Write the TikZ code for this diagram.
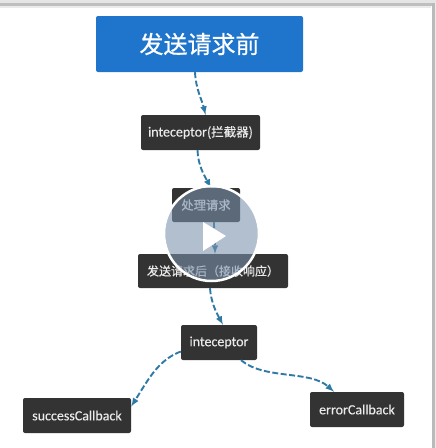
\documentclass[tikz,border=0pt]{standalone}
\usepackage{fontspec}
\setmainfont[FakeBold=0.2]{Carlito}
\newfontfamily\cjk[FakeBold=0.6]{Noto Sans CJK SC}
\definecolor{boxblue}{HTML}{1F75CC}
\definecolor{boxdark}{HTML}{333333}
\definecolor{linkblue}{HTML}{2F7AA5}
\definecolor{playgrey}{HTML}{7A91AB}
\tikzset{
	darkbox/.style={fill=boxdark, text=white!92!black, rounded corners=2pt, inner sep=0pt, font=\fontsize{14}{16}\selectfont},
	bluebox/.style={fill=boxblue, text=white, rounded corners=2pt, inner sep=0pt, font=\cjk\fontsize{24}{28}\selectfont},
	dashlink/.style={draw=linkblue, line width=1.9pt, dash pattern=on 6pt off 2.5pt, -latex}
}

\begin{document}
\begin{tikzpicture}[x=1pt, y=-1pt]
	\useasboundingbox (0,0) rectangle (436,448);
	% window edges
	\fill[black!10] (0,0) rectangle (436,3);
	\fill[black!25] (0,3) rectangle (436,6);
	\fill[black!8] (0,6) rectangle (431,7.5);
	\fill[black!27] (431.5,3) rectangle (434.5,448);
	\fill[black!8] (434.5,3) rectangle (436,448);
	\node[bluebox, minimum width=207pt, minimum height=56pt] (before) at (199.5,44) {发送请求前};
	\node[darkbox, minimum width=119pt, minimum height=35pt] (inter) at (200.5,132.5) {inteceptor{\cjk\fontsize{12.5}{14}\selectfont (拦截器)}};
	\node[darkbox, minimum width=68pt, minimum height=34pt, font=\cjk\fontsize{12.3}{14}\selectfont] (handle) at (206,205) {处理请求};
	\node[darkbox, minimum width=150pt, minimum height=34pt, font=\cjk\fontsize{12}{14}\selectfont] (after) at (213,271) {发送请求后（接收响应）};
	\node[darkbox, minimum width=76pt, minimum height=35pt] (inter2) at (219,342.5) {inteceptor};
	\node[darkbox, minimum width=108pt, minimum height=35pt] (success) at (77,415.5) {successCallback};
	\node[darkbox, minimum width=94pt, minimum height=35pt] (error) at (357,409.5) {errorCallback};
	% dashed links
	\draw[dashlink] ([xshift=-4.5pt]before.south) .. controls (196,90) and (202,100) .. ([xshift=5pt]inter.north);
	\draw[dashlink] ([xshift=-3pt]inter.south) .. controls (198,165) and (204,175) .. ([xshift=5pt]handle.north);
	\draw[dashlink] ([xshift=8pt]handle.south) .. controls (214,232) and (215,242) .. ([xshift=2pt]after.north);
	\draw[dashlink] ([xshift=-3pt]after.south) .. controls (211,302) and (216,312) .. ([xshift=4pt]inter2.north);
	\draw[dashlink] ([yshift=-9pt]inter2.west) .. controls (158,360) and (148,380) .. ([yshift=9pt]success.east);
	\draw[dashlink] ([xshift=22pt]inter2.south) .. controls (265,380) and (310,370) .. ([xshift=-23pt]error.north);
	% play button
	\node[circle, draw=white, line width=2.5pt, fill=playgrey, fill opacity=0.58, draw opacity=1, minimum size=95pt, inner sep=0pt] (play) at (211.5,233.5) {};
	\fill[white] (203,222) -- (226,236) -- (203,251) -- cycle;
\end{tikzpicture}
\end{document}
